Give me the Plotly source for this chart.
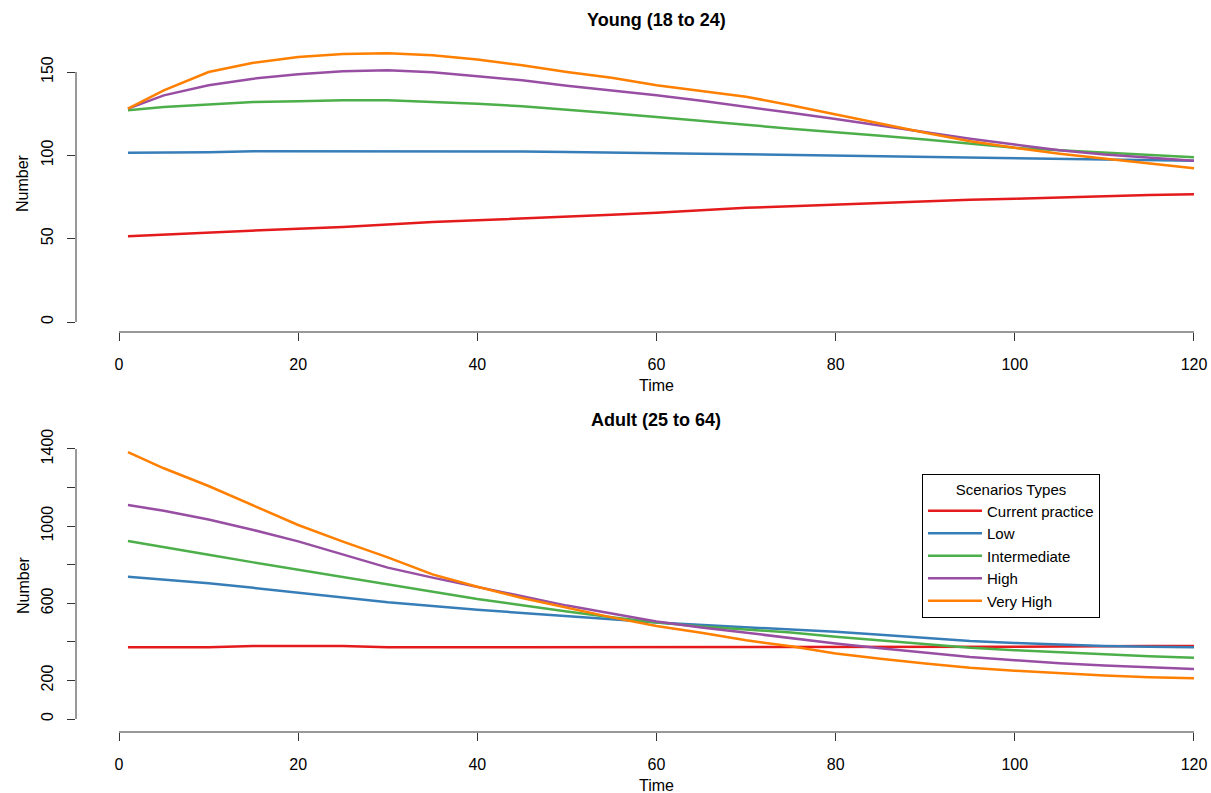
import plotly.graph_objects as go

time = [1, 5, 10, 15, 20, 25, 30, 35, 40, 45, 50, 55, 60, 65, 70, 75, 80, 85, 90, 95, 100, 105, 110, 115, 120]

scenarios = ["Current practice", "Low", "Intermediate", "High", "Very High"]
colors = ["#E41A1C", "#377EB8", "#4DAF4A", "#984EA3", "#FF7F00"]

# Young (18 to 24)
young_current = [51.5, 52.5, 53.5, 55, 56, 57, 58.5, 60, 61, 62, 63, 64.3, 65.5, 67, 68.5, 69.5, 70.5, 71.5, 72.5, 73.3, 74, 74.8, 75.5, 76.2, 76.7]
young_low = [101.5, 101.6, 101.8, 102.5, 102.5, 102.5, 102.5, 102.5, 102.5, 102.3, 102, 101.8, 101.5, 101, 100.6, 100.2, 99.7, 99.3, 99, 98.6, 98.3, 97.9, 97.5, 97.1, 96.8]
young_intermediate = [127, 129, 130.5, 132, 132.5, 133, 133, 132.2, 131, 129.5, 127.5, 125.2, 123, 120.5, 118.3, 116, 114, 111.7, 109.5, 107, 104.5, 103, 101.5, 100, 98.8]
young_high = [128, 136, 142, 146, 148.6, 150.5, 151, 149.8, 147.5, 145, 141.8, 139, 136, 132.7, 129.3, 125.5, 121.8, 117.8, 113.6, 110, 106.5, 103, 100.5, 98.5, 96.8]
young_very_high = [128, 139, 150, 155.5, 159, 160.8, 161.2, 160, 157.5, 154, 150, 146.5, 142, 138.5, 135.2, 130, 124.5, 119, 113.5, 108.5, 104.5, 101, 98, 95, 92.2]

# Adult (25 to 64)
adult_current = [372, 372, 372, 378, 378, 378, 372, 372, 372, 372, 372, 372, 372, 372, 372, 372, 372, 372, 372, 372, 375, 376, 378, 378, 378]
adult_low = [738, 724, 704, 680, 656, 630, 605, 586, 566, 550, 532, 517, 500, 488, 478, 466, 452, 437, 420, 404, 394, 385, 379, 375, 372]
adult_intermediate = [923, 893, 852, 812, 774, 733, 695, 660, 622, 590, 557, 528, 500, 480, 464, 448, 426, 408, 390, 370, 357, 346, 336, 326, 318]
adult_high = [1109, 1080, 1034, 980, 921, 852, 785, 733, 683, 636, 588, 546, 505, 475, 447, 420, 392, 367, 344, 322, 305, 289, 277, 267, 259]
adult_very_high = [1384, 1300, 1208, 1105, 1006, 920, 838, 750, 686, 627, 578, 527, 482, 447, 408, 377, 340, 312, 288, 266, 250, 237, 226, 217, 211]

young = [young_current, young_low, young_intermediate, young_high, young_very_high]
adult = [adult_current, adult_low, adult_intermediate, adult_high, adult_very_high]

x_ticks = [0, 20, 40, 60, 80, 100, 120]
young_ticks = [0, 50, 100, 150]
adult_ticks = [0, 200, 400, 600, 800, 1000, 1200, 1400]
adult_ticktext = ["0", "200", "", "600", "", "1000", "", "1400"]

W, H = 1211, 793
FONT = "Liberation Sans, Arial, sans-serif"
AX = "#333333"

fig = go.Figure()

for name, col, ys in zip(scenarios, colors, young):
    fig.add_trace(go.Scatter(x=time, y=ys, mode="lines", name=name, showlegend=False,
                             line=dict(color=col, width=2.5), xaxis="x", yaxis="y"))
for name, col, ys in zip(scenarios, colors, adult):
    fig.add_trace(go.Scatter(x=time, y=ys, mode="lines", name=name,
                             line=dict(color=col, width=2.5), xaxis="x2", yaxis="y2"))


def px_y(top, bottom):
    return [(H - bottom) / H, (H - top) / H]


xdom = [76 / W, 1]
common_x = dict(domain=xdom, range=[-4.8, 121.9], tickvals=x_ticks, ticks="outside", ticklen=8,
                tickcolor=AX, showgrid=False, zeroline=False, showline=False, automargin=False,
                tickfont=dict(size=16, color="black"), ticklabelstandoff=10)
common_y = dict(ticks="outside", ticklen=8, tickcolor=AX, showgrid=False, zeroline=False,
                showline=False, automargin=False, tickangle=-90,
                tickfont=dict(size=16, color="black"), ticklabelstandoff=8)

fig.update_layout(
    width=W, height=H,
    margin=dict(l=0, r=0, t=0, b=0),
    paper_bgcolor="white", plot_bgcolor="white",
    font=dict(family=FONT, color="black"),
    xaxis=dict(common_x, anchor="y"),
    yaxis=dict(common_y, domain=px_y(42, 332), range=[-6.0, 168.0], tickvals=young_ticks, anchor="x"),
    xaxis2=dict(common_x, anchor="y2"),
    yaxis2=dict(common_y, domain=px_y(440, 732), range=[-67.4, 1446.6], tickvals=adult_ticks,
                ticktext=adult_ticktext, anchor="x2"),
    legend=dict(x=922 / W, y=(H - 474) / H, xanchor="left", yanchor="top",
                bordercolor="black", borderwidth=1, bgcolor="white",
                font=dict(size=15, color="black"), itemwidth=54,
                title=dict(text="Scenarios Types", side="top center", font=dict(size=15)),
                tracegroupgap=0),
)

# R-style axis lines spanning only the tick range
for xa, ya, ymax in [("x", "y", 150), ("x2", "y2", 1400)]:
    fig.add_shape(type="line", xref=xa, yref=ya + " domain", x0=0, x1=120, y0=0, y1=0,
                  line=dict(color=AX, width=1))
    fig.add_shape(type="line", xref=xa + " domain", yref=ya, x0=0, x1=0, y0=0, y1=ymax,
                  line=dict(color=AX, width=1))

# titles and axis labels
for title, xa, ypx in [("Young (18 to 24)", "x", 20), ("Adult (25 to 64)", "x2", 420)]:
    fig.add_annotation(text="<b>%s</b>" % title, xref=xa, x=60, yref="paper", y=(H - ypx) / H,
                       yanchor="middle", showarrow=False, font=dict(size=18))
for ypx in [386, 785]:
    fig.add_annotation(text="Time", xref="paper", x=656 / W, yref="paper", y=(H - ypx) / H,
                       yanchor="middle", showarrow=False, font=dict(size=16))
for ypx in [183, 585]:
    fig.add_annotation(text="Number", xref="paper", x=23 / W, yref="paper", y=(H - ypx) / H,
                       xanchor="center", yanchor="middle", textangle=-90, showarrow=False,
                       font=dict(size=16))

fig.write_html("out.html", config={"displayModeBar": False},
               post_script="document.body.style.margin='0';")
